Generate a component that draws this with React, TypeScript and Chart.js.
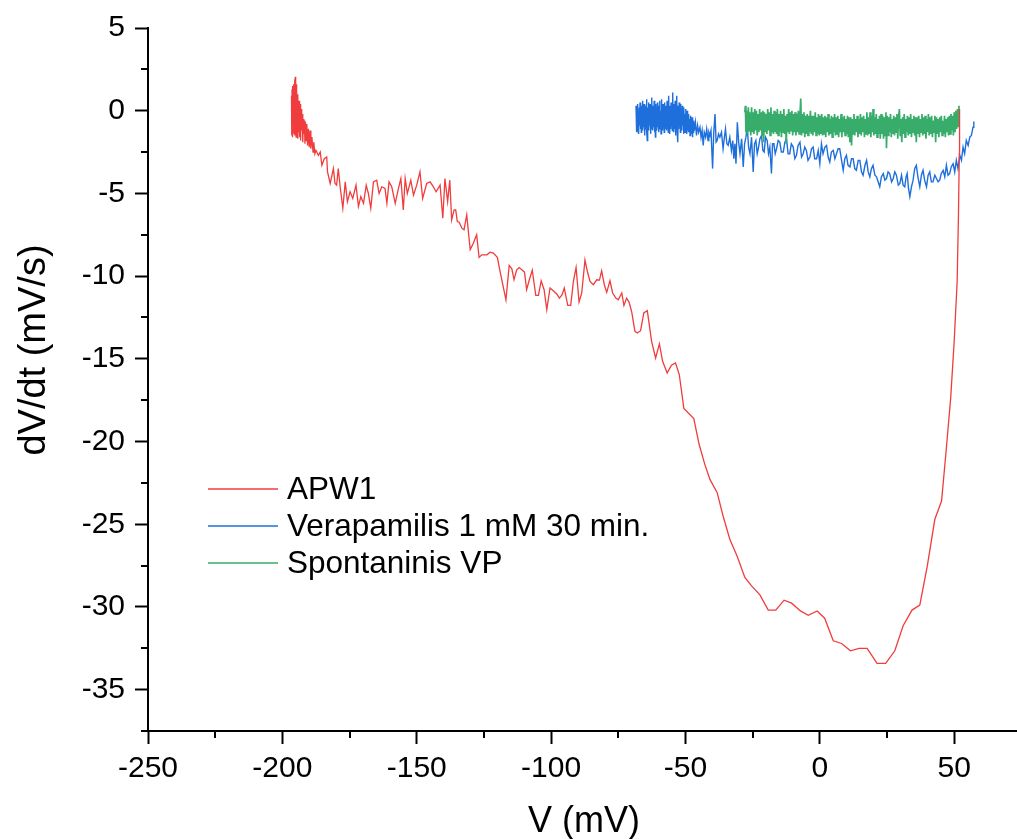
import React, { useEffect, useRef } from "react";
import { Chart, registerables } from "chart.js";

Chart.register(...registerables);

// ---------- data (V in mV, dV/dt in mV/s) ----------
const seriesNames = ["APW1", "Verapamilis 1 mM 30 min.", "Spontaninis VP"];
const seriesColors = ["#F03C3C", "#1E6FDC", "#38AC6B"];

const apw1Points: [number, number][] = [
  [-196.6, 0.9], [-196.5, -1.5], [-196.4, 1.3], [-196.3, -1.2], [-196.2, 1.5], [-196.1, -1.6], [-196.0, 1.2], [-195.9, -0.8],
  [-195.8, 1.6], [-195.7, -1.4], [-195.6, 1.4], [-195.5, -1.1], [-195.4, 1.9], [-195.3, -1.5], [-195.2, 2.05], [-195.1, -0.9],
  [-195.0, 1.5], [-194.9, -1.6], [-194.8, 1.6], [-194.6, -1.2], [-194.5, 1.0], [-194.3, -1.7], [-194.2, 0.9], [-194.0, -1.3],
  [-193.8, 0.6], [-193.6, -1.6], [-193.4, 0.4], [-193.2, -1.8], [-193.0, 0.1], [-192.8, -1.2], [-192.6, -0.2], [-192.4, -1.9],
  [-192.2, -0.5], [-192.0, -1.4], [-191.8, -0.6], [-191.6, -2.0], [-191.4, -0.7], [-191.1, -1.8], [-190.9, -0.8], [-190.6, -2.1],
  [-190.3, -1.1], [-190.0, -2.2], [-189.7, -1.2], [-189.4, -2.3], [-189.0, -1.6], [-188.6, -2.5], [-188.3, -1.9], [-187.9, -2.6],
  [-187.5, -2.4], [-187.2, -2.5], [-186.6, -2.7], [-185.9, -2.5], [-185.3, -3.3], [-184.4, -2.9], [-183.5, -2.8], [-183.2, -3.7],
  [-182.2, -4.4], [-181.0, -3.5], [-180.4, -4.4], [-179.8, -4.5], [-179.2, -3.5], [-178.5, -4.6], [-177.5, -5.9], [-176.6, -4.3],
  [-175.8, -5.5], [-174.8, -4.9], [-173.8, -5.3], [-172.6, -4.5], [-171.7, -5.8], [-170.8, -5.2], [-169.8, -5.6], [-168.8, -4.5],
  [-168.0, -5.0], [-167.1, -5.9], [-166.1, -4.3], [-164.9, -4.2], [-164.0, -5.0], [-163.0, -4.6], [-161.8, -4.7], [-161.1, -5.6],
  [-160.3, -4.3], [-159.3, -4.6], [-158.0, -5.6], [-156.8, -4.7], [-155.9, -4.1], [-155.0, -6.0], [-154.3, -4.1], [-153.5, -5.0],
  [-152.2, -4.2], [-151.2, -5.1], [-150.0, -4.5], [-148.8, -3.7], [-147.8, -5.3], [-146.3, -4.4], [-145.0, -4.3], [-143.8, -4.6],
  [-142.8, -4.9], [-141.3, -4.5], [-140.3, -6.5], [-139.5, -4.1], [-138.5, -5.5], [-137.7, -4.2], [-137.0, -6.6], [-136.1, -6.0],
  [-135.5, -6.0], [-134.9, -6.7], [-134.2, -6.74], [-133.2, -7.1], [-132.4, -7.2], [-131.4, -6.3], [-130.1, -8.4], [-128.9, -8.0],
  [-127.7, -7.5], [-126.8, -8.87], [-125.8, -8.71], [-123.9, -8.71], [-122.7, -8.55], [-121.5, -8.61], [-120.0, -8.87], [-119.0, -9.72],
  [-117.7, -10.72], [-116.8, -11.43], [-115.6, -9.35], [-114.6, -9.56], [-113.8, -10.22], [-112.8, -9.62], [-111.9, -9.48], [-110.9, -9.62],
  [-109.9, -9.76], [-109.1, -10.82], [-108.1, -10.22], [-107.0, -9.64], [-105.7, -11.16], [-104.7, -11.16], [-103.7, -10.28], [-102.6, -10.82],
  [-101.6, -12.03], [-100.4, -10.72], [-99.2, -10.88], [-97.9, -11.08], [-96.9, -11.33], [-95.9, -11.12], [-95.1, -10.72], [-93.8, -11.77],
  [-92.7, -11.77], [-91.7, -10.32], [-90.7, -9.48], [-89.6, -11.57], [-88.6, -11.02], [-87.4, -9.03], [-86.5, -9.72], [-85.5, -10.32],
  [-84.3, -10.52], [-83.0, -10.22], [-82.0, -10.24], [-81.2, -9.68], [-80.2, -10.52], [-79.3, -10.98], [-78.1, -10.28], [-77.1, -11.02],
  [-75.9, -11.33], [-75.0, -11.43], [-73.7, -11.02], [-72.9, -11.77], [-71.9, -11.33], [-71.0, -11.57], [-70.0, -12.17], [-68.8, -13.34],
  [-67.9, -13.44], [-66.7, -13.3], [-65.5, -12.23], [-64.2, -12.09], [-62.6, -13.94], [-61.1, -14.95], [-59.7, -14.1], [-58.5, -15.15],
  [-56.8, -15.85], [-55.2, -15.39], [-53.7, -15.25], [-52.3, -15.95], [-50.6, -18.0], [-46.9, -18.61], [-44.9, -20.18], [-42.8, -21.38],
  [-40.9, -22.29], [-38.2, -23.09], [-36.0, -24.5], [-33.5, -25.91], [-30.8, -26.92], [-27.9, -28.22], [-25.4, -28.73], [-22.3, -29.27],
  [-19.2, -30.19], [-16.4, -30.19], [-13.3, -29.59], [-10.5, -29.77], [-7.2, -30.24], [-4.3, -30.5], [-1.0, -30.24], [1.8, -30.68],
  [5.0, -32.05], [8.1, -32.21], [11.4, -32.65], [14.6, -32.51], [17.6, -32.51], [21.3, -33.41], [24.5, -33.41], [27.9, -32.65],
  [31.0, -31.14], [34.3, -30.19], [37.2, -29.89], [40.0, -27.52], [42.8, -24.7], [45.3, -23.6], [47.1, -20.38], [48.7, -17.36],
  [50.0, -13.94], [51.1, -10.32], [51.6, -6.2], [51.9, -2.6], [52.0, 0.1],
];

const verapamilPoints: [number, number][] = [
  [-68.4, 0.3], [-68.25, -1.3], [-68.1, 0.1], [-67.95, -1.0], [-67.8, 0.4], [-67.65, -1.2], [-67.5, -0.1], [-67.35, -1.4],
  [-67.2, 0.2], [-67.05, -0.9], [-66.9, 0.5], [-66.75, -1.1], [-66.6, 0.0], [-66.45, -1.3], [-66.3, 0.3], [-66.15, -0.8],
  [-66.0, 0.6], [-65.85, -1.2], [-65.7, 0.1], [-65.55, -1.0], [-65.4, 0.4], [-65.25, -1.5], [-65.1, -0.2], [-64.95, -1.1],
  [-64.8, 0.3], [-64.65, -0.9], [-64.5, 0.7], [-64.35, -1.3], [-64.2, -1.8], [-64.05, 0.2], [-63.9, -1.0], [-63.75, 0.5],
  [-63.6, -1.2], [-63.45, 0.0], [-63.3, -0.9], [-63.15, 0.4], [-63.0, -1.4], [-62.85, 0.1], [-62.7, -1.1], [-62.55, 0.8],
  [-62.4, -0.7], [-62.25, 0.3], [-62.1, -1.2], [-61.95, 0.2], [-61.8, -1.0], [-61.65, 0.6], [-61.5, -1.3], [-61.35, 0.0],
  [-61.2, -1.6], [-61.05, 0.4], [-60.9, -0.9], [-60.75, 0.2], [-60.6, -1.2], [-60.45, 0.5], [-60.3, -1.0], [-60.15, 0.1],
  [-60.0, -1.3], [-59.85, 0.3], [-59.7, -0.8], [-59.55, 0.6], [-59.4, -1.1], [-59.25, 0.0], [-59.1, -1.4], [-58.95, 0.7],
  [-58.8, -0.9], [-58.65, 0.2], [-58.5, -1.2], [-58.35, 0.4], [-58.2, -1.0], [-58.05, 0.1], [-57.9, -1.3], [-57.75, 0.5],
  [-57.6, -0.8], [-57.45, 0.3], [-57.3, -1.1], [-57.15, 0.0], [-57.0, -1.2], [-56.85, 0.6], [-56.7, -1.0], [-56.55, 0.2],
  [-56.4, -1.3], [-56.25, 0.9], [-56.1, -0.9], [-55.95, 0.3], [-55.8, -1.4], [-55.65, 0.1], [-55.5, -1.1], [-55.35, 0.5],
  [-55.2, -0.9], [-55.05, 0.2], [-54.9, -1.2], [-54.75, 1.1], [-54.6, -1.0], [-54.45, 0.4], [-54.3, -1.3], [-54.15, 0.0],
  [-54.0, -1.1], [-53.85, 0.6], [-53.7, -1.5], [-53.55, 0.2], [-53.4, -1.0], [-53.25, 0.9], [-53.1, -1.2], [-52.95, 0.3],
  [-52.8, -1.9], [-52.65, 0.1], [-52.5, -1.1], [-52.35, 0.5], [-52.2, -0.9], [-52.05, 0.2], [-51.9, -1.3], [-51.75, 0.4],
  [-51.6, -1.0], [-51.45, 0.0], [-51.3, -1.2], [-51.15, 0.3], [-51.0, -0.9], [-50.85, -0.1], [-50.7, -1.4], [-50.55, 0.2],
  [-50.4, -1.1], [-50.25, -0.2], [-50.1, -1.3], [-49.95, 0.1], [-49.8, -1.0], [-49.65, -0.3], [-49.5, -1.4], [-49.35, 0.0],
  [-49.2, -1.2], [-49.05, -0.4], [-48.9, -1.3], [-48.75, -0.2], [-48.6, -1.1], [-48.45, -0.5], [-48.3, -1.5], [-48.15, -0.3],
  [-48.0, -1.2], [-47.85, -0.6], [-47.7, -1.4], [-47.55, -0.4], [-47.4, -1.6], [-47.25, -0.7], [-47.1, -1.3], [-46.95, -0.6],
  [-46.7, -1.2], [-46.3, -0.7], [-45.9, -1.5], [-45.5, -0.9], [-45.1, -1.3], [-44.6, -1.0], [-44.2, -1.6], [-43.8, -1.2],
  [-43.4, -2.1], [-43.0, -1.3], [-42.5, -1.6], [-42.1, -1.1], [-41.6, -1.8], [-41.3, -1.3], [-40.9, -1.5], [-40.5, -1.2],
  [-39.9, -3.5], [-39.5, -1.4], [-39.0, -0.2], [-38.6, -1.9], [-38.2, -1.8], [-37.7, -1.4], [-37.2, -1.6], [-36.6, -1.3],
  [-36.0, -2.3], [-35.5, -1.6], [-35.1, -1.1], [-34.6, -2.0], [-34.1, -2.1], [-33.5, -1.6], [-32.9, -2.4], [-32.4, -1.8],
  [-32.0, -2.9], [-31.6, -2.0], [-31.2, -3.2], [-30.7, -0.7], [-30.2, -1.9], [-29.7, -2.6], [-29.1, -1.7], [-28.5, -3.4],
  [-28.0, -2.0], [-27.5, -1.6], [-27.0, -1.0], [-26.5, -2.2], [-26.0, -2.6], [-25.4, -1.6], [-24.8, -3.7], [-24.3, -2.0],
  [-23.8, -1.8], [-23.3, -2.6], [-22.9, -2.3], [-22.3, -1.7], [-21.7, -1.5], [-21.2, -2.4], [-20.7, -2.5], [-20.2, -1.6],
  [-19.6, -1.8], [-19.1, -2.6], [-18.6, -2.2], [-18.0, -3.8], [-17.6, -2.0], [-17.1, -2.0], [-16.6, -2.6], [-16.1, -2.3],
  [-15.5, -1.8], [-14.9, -1.9], [-14.3, -2.5], [-13.6, -2.5], [-13.0, -1.9], [-12.4, -1.7], [-11.8, -2.6], [-11.2, -2.6],
  [-10.6, -2.0], [-9.9, -2.2], [-9.3, -2.9], [-8.7, -2.7], [-8.1, -2.1], [-7.4, -1.9], [-6.8, -2.8], [-6.2, -2.6],
  [-5.6, -2.2], [-5.0, -2.4], [-4.4, -3.0], [-3.7, -2.8], [-3.1, -2.3], [-2.5, -2.2], [-1.9, -2.9], [-1.2, -2.9],
  [-0.6, -2.4], [0.0, -3.2], [0.6, -2.0], [1.2, -2.6], [1.9, -2.2], [2.5, -2.1], [3.1, -2.8], [3.7, -3.1],
  [4.3, -2.5], [5.0, -2.4], [5.6, -2.9], [6.2, -2.6], [6.8, -2.3], [7.4, -2.3], [8.1, -3.0], [8.7, -3.6],
  [9.3, -2.9], [9.9, -2.7], [10.5, -3.3], [11.2, -3.4], [11.8, -2.9], [12.4, -2.9], [13.0, -3.5], [13.6, -3.6],
  [14.3, -3.0], [14.9, -3.0], [15.5, -3.7], [16.1, -3.9], [16.8, -3.3], [17.4, -3.0], [18.0, -3.7], [18.6, -4.0],
  [19.2, -3.5], [19.8, -3.3], [20.5, -3.9], [21.1, -4.0], [21.7, -4.3], [22.3, -4.6], [22.9, -4.0], [23.6, -3.8],
  [24.2, -4.2], [24.8, -4.1], [25.4, -3.7], [26.0, -3.8], [26.7, -4.3], [27.3, -4.1], [27.9, -3.7], [28.5, -3.9],
  [29.2, -4.5], [29.8, -4.4], [30.4, -3.9], [31.0, -4.5], [31.6, -4.6], [32.1, -4.0], [32.5, -3.8], [33.0, -4.7],
  [33.5, -5.2], [34.1, -4.6], [34.7, -4.2], [35.3, -3.5], [35.9, -3.3], [36.5, -4.0], [37.2, -4.6], [37.8, -3.9],
  [38.4, -3.6], [39.0, -4.2], [39.7, -4.6], [40.3, -3.9], [40.9, -3.7], [41.5, -4.3], [42.1, -4.3], [42.8, -3.9],
  [43.4, -4.1], [44.0, -4.3], [44.6, -4.2], [45.2, -3.8], [45.9, -3.6], [46.5, -4.0], [47.1, -3.3], [47.7, -3.9],
  [48.3, -3.8], [48.9, -3.4], [49.6, -3.2], [50.2, -3.7], [50.8, -3.0], [51.4, -3.5], [52.1, -2.7], [52.7, -3.0],
  [53.3, -2.2], [53.9, -2.6], [54.5, -1.8], [55.2, -2.1], [55.8, -1.6], [56.4, -1.5], [57.0, -1.0], [57.3, -0.66],
];

const spontaneousPoints: [number, number][] = [
  [-27.9, -0.1], [-27.7, 0.3], [-27.5, -1.3], [-27.2, 0.0], [-26.9, -1.4], [-26.6, 0.2], [-26.3, -1.2], [-26.0, -0.1],
  [-25.7, -1.5], [-25.4, 0.2], [-25.1, -1.3], [-24.8, -0.1], [-24.5, -1.4], [-24.2, 0.1], [-23.9, -1.2], [-23.6, 0.0],
  [-23.3, -1.5], [-23.0, -0.2], [-22.7, -1.3], [-22.4, 0.1], [-22.1, -1.2], [-21.8, -0.1], [-21.5, -1.5], [-21.2, 0.0],
  [-20.9, -1.9], [-20.6, -0.1], [-20.3, -1.3], [-20.0, -0.2], [-19.7, -1.4], [-19.4, 0.1], [-19.1, -1.2], [-18.8, -0.1],
  [-18.5, -1.5], [-18.2, 0.2], [-17.9, -1.3], [-17.6, -0.2], [-17.3, -1.4], [-17.0, 0.0], [-16.7, -1.3], [-16.4, -0.1],
  [-16.1, -1.4], [-15.8, 0.1], [-15.5, -1.5], [-15.2, -0.2], [-14.9, -1.3], [-14.6, 0.0], [-14.3, -1.6], [-14.0, -0.2],
  [-13.7, -1.3], [-13.4, 0.1], [-13.1, -1.4], [-12.8, -0.3], [-12.5, -2.0], [-12.2, -0.2], [-11.9, -1.3], [-11.6, 0.1],
  [-11.3, -1.4], [-11.0, -0.1], [-10.7, -1.2], [-10.4, 0.0], [-10.1, -1.5], [-9.8, -0.2], [-9.5, -1.3], [-9.2, -0.1],
  [-8.9, -1.5], [-8.6, -0.2], [-8.3, -1.3], [-8.0, 0.0], [-7.7, -1.4], [-7.4, -0.3], [-7.1, 0.74], [-6.8, -1.5],
  [-6.5, -0.2], [-6.2, -1.3], [-5.9, -0.1], [-5.6, -1.6], [-5.3, -0.3], [-5.0, -1.4], [-4.7, -0.2], [-4.4, -1.5],
  [-4.1, -0.3], [-3.8, -1.3], [-3.5, 0.0], [-3.2, -1.4], [-2.9, -0.3], [-2.6, -1.5], [-2.3, -0.3], [-2.0, -1.3],
  [-1.7, -0.1], [-1.4, -1.5], [-1.1, -0.4], [-0.8, -1.4], [-0.5, -0.2], [-0.2, -1.5], [0.1, -0.3], [0.4, -1.4],
  [0.7, -0.2], [1.0, -1.5], [1.3, -0.4], [1.6, -1.4], [1.9, -0.3], [2.2, -1.6], [2.5, -0.4], [2.8, -1.3],
  [3.1, -0.2], [3.4, -1.5], [3.7, -0.5], [4.0, -1.4], [4.3, -0.3], [4.6, -1.6], [4.9, -0.4], [5.2, -1.3],
  [5.5, -0.2], [5.8, -1.5], [6.1, -0.4], [6.4, -1.4], [6.7, -0.3], [7.0, -1.6], [7.3, -0.5], [7.6, -1.3],
  [7.9, -0.2], [8.2, -1.6], [8.5, -0.4], [8.8, -1.3], [9.1, -0.3], [9.4, -1.5], [9.7, -0.5], [10.0, -1.4],
  [10.3, -0.3], [10.6, -1.6], [10.9, -0.4], [11.2, -1.9], [11.5, -0.4], [11.8, -2.1], [12.1, -0.5], [12.4, -1.4],
  [12.7, -0.2], [13.0, -1.5], [13.3, -0.5], [13.6, -1.3], [13.9, -0.3], [14.2, -1.6], [14.5, -0.5], [14.8, -1.4],
  [15.1, -0.2], [15.4, -1.5], [15.7, -0.4], [16.0, -1.3], [16.3, -0.3], [16.6, -1.6], [16.9, -0.5], [17.2, -1.4],
  [17.5, -0.1], [17.8, -1.5], [18.1, -0.4], [18.4, -1.4], [18.7, -0.1], [19.0, -1.6], [19.3, -0.3], [19.6, -1.3],
  [19.8, 0.1], [20.1, -1.5], [20.4, -0.4], [20.7, -1.4], [21.0, -0.2], [21.3, -1.6], [21.6, -0.5], [21.9, -1.4],
  [22.2, -0.3], [22.5, -1.7], [22.8, -0.2], [23.1, -1.4], [23.4, -0.3], [23.7, -1.7], [24.0, -0.4], [24.3, -1.5],
  [24.6, -0.1], [24.8, -2.27], [25.1, -0.3], [25.4, -1.5], [25.7, -0.4], [26.0, -1.3], [26.3, -0.2], [26.6, -1.6],
  [26.9, -0.5], [27.2, -1.4], [27.5, -0.3], [27.8, -1.5], [28.1, -0.4], [28.4, -1.3], [28.7, -0.2], [29.0, -1.7],
  [29.3, -0.4], [29.6, 0.1], [29.9, -1.5], [30.2, -0.5], [30.5, -1.9], [30.8, -0.4], [31.1, -1.4], [31.4, -0.2],
  [31.7, -1.6], [32.0, -0.5], [32.3, -1.3], [32.6, -0.3], [32.9, -1.5], [33.2, -0.4], [33.5, -1.4], [33.8, -0.2],
  [34.1, -1.6], [34.4, -0.5], [34.7, -1.3], [35.0, -0.3], [35.3, -1.5], [35.6, -0.4], [35.9, -1.9], [36.2, -0.4],
  [36.5, -1.4], [36.8, -0.3], [37.1, -1.6], [37.4, -0.5], [37.7, -1.3], [38.0, -0.2], [38.3, -1.5], [38.6, -0.4],
  [38.9, -1.4], [39.2, -0.3], [39.5, -1.7], [39.8, -0.5], [40.1, -1.3], [40.4, -0.2], [40.7, -1.5], [41.0, -0.4],
  [41.3, -1.4], [41.6, -0.3], [41.9, -1.6], [42.2, -0.6], [42.5, -1.3], [42.8, -0.3], [43.1, -1.9], [43.4, -0.4],
  [43.7, -1.4], [44.0, -0.5], [44.3, -1.6], [44.6, -0.4], [44.9, -1.3], [45.2, -0.3], [45.5, -1.5], [45.8, -0.6],
  [46.1, -1.4], [46.4, -0.3], [46.7, -1.6], [47.0, -0.5], [47.3, -1.3], [47.6, -0.4], [47.9, -1.5], [48.2, -0.3],
  [48.5, -1.4], [48.8, -0.2], [49.1, -1.2], [49.4, -0.3], [49.7, -1.5], [50.0, -0.1], [50.3, -1.3], [50.6, 0.0],
  [50.9, -1.1], [51.2, 0.1], [51.5, -1.0], [51.8, 0.3],
];

const xTicks = [-250, -200, -150, -100, -50, 0, 50];
const xMinorTicks = [-225, -175, -125, -75, -25, 25];
const yTicks = [5, 0, -5, -10, -15, -20, -25, -30, -35];
const yMinorTicks = [2.5, -2.5, -7.5, -12.5, -17.5, -22.5, -27.5, -32.5, -37.5];
const xRange = [-250, 73];
const yRange = [-37.5, 5];
const xTitle = "V (mV)";
const yTitle = "dV/dt (mV/s)";

const FONT = "'Liberation Sans', Arial, Helvetica, sans-serif";
const W = 1017;
const H = 839;

const decorPlugin = {
  id: "decor",
  afterDraw(chart: any) {
    const ctx = chart.ctx as CanvasRenderingContext2D;
    const xs = chart.scales.x;
    const ys = chart.scales.y;
    const area = chart.chartArea;
    ctx.save();
    // minor ticks
    ctx.strokeStyle = "#000";
    ctx.lineWidth = 2;
    ctx.beginPath();
    xMinorTicks.forEach((v) => {
      const px = Math.round(xs.getPixelForValue(v));
      ctx.moveTo(px, area.bottom);
      ctx.lineTo(px, area.bottom + 7);
    });
    yMinorTicks.forEach((v) => {
      const py = Math.round(ys.getPixelForValue(v));
      ctx.moveTo(area.left, py);
      ctx.lineTo(area.left - 7, py);
    });
    ctx.stroke();

    // axis titles
    ctx.fillStyle = "#000";
    ctx.textAlign = "center";
    ctx.textBaseline = "middle";
    ctx.font = `36px ${FONT}`;
    ctx.fillText(xTitle, 584, 822);
    ctx.save();
    ctx.font = `38px ${FONT}`;
    ctx.translate(35, 350);
    ctx.rotate(-Math.PI / 2);
    ctx.fillText(yTitle, 0, 0);
    ctx.restore();

    // legend
    ctx.font = `31.5px ${FONT}`;
    ctx.textAlign = "left";
    seriesNames.forEach((name, i) => {
      const y = 489 + 37 * i;
      ctx.strokeStyle = seriesColors[i];
      ctx.lineWidth = 1.5;
      ctx.beginPath();
      ctx.moveTo(208, y);
      ctx.lineTo(278, y);
      ctx.stroke();
      ctx.fillStyle = "#000";
      ctx.fillText(name, 287, y + 1);
    });
    ctx.restore();
  },
};

export default function App() {
  const ref = useRef<HTMLCanvasElement | null>(null);

  useEffect(() => {
    if (!ref.current) return;
    const toXY = (pts: [number, number][]) => pts.map(([x, y]) => ({ x, y }));
    const allPoints = [apw1Points, verapamilPoints, spontaneousPoints];
    const orders = [0, 2, 1];
    const widths = [1.3, 1.4, 1.7];
    const chart = new Chart(ref.current, {
      type: "line",
      data: {
        datasets: allPoints.map((pts, i) => ({
          label: seriesNames[i],
          data: toXY(pts),
          borderColor: seriesColors[i],
          backgroundColor: seriesColors[i],
          borderWidth: widths[i],
          pointRadius: 0,
          tension: 0,
          fill: false,
          order: orders[i],
        })),
      },
      options: {
        responsive: false,
        animation: false,
        devicePixelRatio: 1,
        layout: { padding: { top: 26, right: 1, left: 0, bottom: 0 } },
        plugins: { legend: { display: false }, tooltip: { enabled: false } },
        scales: {
          x: {
            type: "linear",
            min: xRange[0],
            max: xRange[1],
            afterBuildTicks: (s: any) => {
              s.ticks = xTicks.map((v) => ({ value: v }));
            },
            afterFit: (s: any) => {
              s.height = 108;
            },
            border: { display: true, color: "#000", width: 2 },
            grid: {
              display: true,
              drawOnChartArea: false,
              drawTicks: true,
              tickLength: 13,
              tickWidth: 2,
              tickColor: "#000",
            },
            ticks: {
              color: "#000",
              font: { family: FONT, size: 30 },
              padding: 7,
              autoSkip: false,
              maxRotation: 0,
              callback: (v: any) => String(v),
            },
          },
          y: {
            type: "linear",
            min: yRange[0],
            max: yRange[1],
            afterBuildTicks: (s: any) => {
              s.ticks = yTicks.map((v) => ({ value: v }));
            },
            afterFit: (s: any) => {
              s.width = 148;
            },
            border: { display: true, color: "#000", width: 2 },
            grid: {
              display: true,
              drawOnChartArea: false,
              drawTicks: true,
              tickLength: 13,
              tickWidth: 2,
              tickColor: "#000",
            },
            ticks: {
              color: "#000",
              font: { family: FONT, size: 30 },
              padding: 10,
              autoSkip: false,
              callback: (v: any) => String(v),
            },
          },
        },
      },
      plugins: [decorPlugin],
    } as any);
    return () => chart.destroy();
  }, []);

  return (
    <div style={{ position: "fixed", left: 0, top: 0, width: W, height: H, background: "#fff" }}>
      <canvas ref={ref} width={W} height={H} style={{ display: "block", width: W, height: H }} />
    </div>
  );
}
